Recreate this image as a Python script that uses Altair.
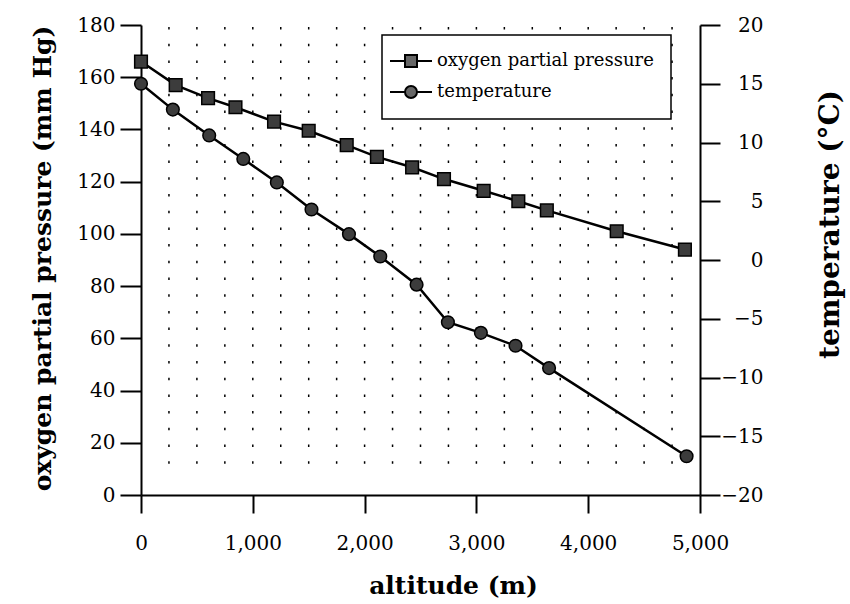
import altair as alt
import pandas as pd

# ---- data ----
o2_altitude = [0, 310, 600, 845, 1190, 1500, 1840, 2110, 2425, 2710, 3065, 3375, 3630, 4255, 4865]
o2_pressure = [166, 157, 152, 148.5, 143, 139.5, 134, 129.5, 125.5, 121, 116.5, 112.5, 109, 101, 94]
temp_altitude = [0, 285, 610, 915, 1215, 1525, 1860, 2140, 2465, 2745, 3040, 3350, 3650, 4880]
temp_celsius = [15, 12.8, 10.6, 8.6, 6.6, 4.3, 2.2, 0.3, -2.1, -5.3, -6.2, -7.3, -9.2, -16.7]
series_names = ["oxygen partial pressure", "temperature"]
x_ticks = [0, 1000, 2000, 3000, 4000, 5000]
o2_ticks = [0, 20, 40, 60, 80, 100, 120, 140, 160, 180]
temp_ticks = [-20, -15, -10, -5, 0, 5, 10, 15, 20]
grid_altitudes = [250, 500, 750, 1000, 1250, 1500, 1750, 2000, 2250, 2500,
                  2750, 3000, 3250, 3500, 3750, 4000, 4250, 4500, 4750]

FONT = "DejaVu Serif"
MARKER_FILL = "#3c3c3c"

df_o2 = pd.DataFrame({"altitude": o2_altitude, "value": o2_pressure})
df_t = pd.DataFrame({"altitude": temp_altitude, "value": temp_celsius})
df_grid = pd.DataFrame({"altitude": grid_altitudes})
df_leg = pd.DataFrame({"altitude": [o2_altitude[0], temp_altitude[0]],
                       "value": [o2_pressure[0], o2_pressure[0]],
                       "series": series_names})

x_axis = alt.Axis(values=x_ticks, format=",.0f", title="altitude (m)", grid=False,
                  domainColor="black", domainWidth=2, tickColor="black", tickWidth=2,
                  tickSize=18, labelFont=FONT, labelFontSize=20, labelColor="black",
                  labelPadding=20, labelFlush=False,
                  titleFont=FONT, titleFontSize=25, titleFontWeight="bold", titleColor="black",
                  titleBaseline="alphabetic", titleX=312, titleY=98)
x_enc = alt.X("altitude:Q", scale=alt.Scale(domain=[0, 5000], nice=False, zero=False), axis=x_axis)

grid = alt.Chart(df_grid).mark_rule(color="black", strokeWidth=1.5, strokeDash=[2.5, 14.2]).encode(
    x=x_enc, y=alt.value(2), y2=alt.value(452)
)

y_o2 = alt.Y("value:Q", scale=alt.Scale(domain=[0, 180], nice=False),
             axis=alt.Axis(orient="left", values=o2_ticks, grid=False,
                           domainColor="black", domainWidth=2, tickColor="black", tickWidth=2,
                           tickSize=21, labelFont=FONT, labelFontSize=20, labelColor="black",
                           labelPadding=5, labelFlush=False,
                           title="oxygen partial pressure (mm Hg)", titleFont=FONT,
                           titleFontSize=25, titleFontWeight="bold", titleColor="black",
                           titleAngle=270, titleAlign="center", titleBaseline="alphabetic",
                           titleX=-91, titleY=233))

y_t = alt.Y("value:Q", scale=alt.Scale(domain=[-20, 20], nice=False),
            axis=alt.Axis(orient="right", values=temp_ticks, grid=False,
                          domainColor="black", domainWidth=2, tickColor="black", tickWidth=2,
                          tickSize=20, labelFont=FONT, labelFontSize=20, labelColor="black",
                          labelAlign="right", labelPadding=43, labelFlush=False,
                          title="temperature (°C)", titleFont=FONT,
                          titleFontSize=28, titleFontWeight="bold", titleColor="black",
                          titleAngle=270, titleAlign="center", titleBaseline="alphabetic",
                          titleX=138, titleY=199))

o2_line = alt.Chart(df_o2).mark_line(color="black", strokeWidth=2.5).encode(x=x_enc, y=y_o2)
o2_pts = alt.Chart(df_o2).mark_point(shape="square", size=160, filled=True, fill=MARKER_FILL,
                                     stroke="black", strokeWidth=1.5, opacity=1).encode(x=x_enc, y=y_o2)

sq_path = "M-3.5,0H-1M1,0H3.5M-1,-1H1V1H-1Z"
ci_path = ("M-3.5,0H-1M1,0H3.5M1,0C1,0.552,0.552,1,0,1C-0.552,1,-1,0.552,-1,0"
           "C-1,-0.552,-0.552,-1,0,-1C0.552,-1,1,-0.552,1,0Z")

leg = alt.Legend(title=None, orient="none", legendX=241, legendY=10,
                 fillColor="white", strokeColor="black", padding=17,
                 labelFont=FONT, labelFontSize=18, labelColor="black",
                 labelLimit=400, symbolSize=144, symbolStrokeWidth=2,
                 symbolOpacity=1, symbolOffset=3, labelOffset=17, rowPadding=11)

legend_layer = alt.Chart(df_leg).mark_point(opacity=0, strokeWidth=2).encode(
    x=x_enc, y=y_o2,
    shape=alt.Shape("series:N", scale=alt.Scale(domain=series_names, range=[sq_path, ci_path]),
                    legend=leg),
    fill=alt.Fill("series:N", scale=alt.Scale(domain=series_names, range=["#666", "#666"]),
                  legend=leg),
    stroke=alt.Stroke("series:N", scale=alt.Scale(domain=series_names, range=["black", "black"]),
                      legend=leg),
)

t_line = alt.Chart(df_t).mark_line(color="black", strokeWidth=2.5).encode(x=x_enc, y=y_t)
t_pts = alt.Chart(df_t).mark_point(shape="circle", size=160, filled=True, fill=MARKER_FILL,
                                   stroke="black", strokeWidth=1.5, opacity=1).encode(x=x_enc, y=y_t)

o2_layer = alt.layer(o2_line, o2_pts, legend_layer)
t_layer = alt.layer(t_line, t_pts)

chart = alt.layer(grid, o2_layer, t_layer).resolve_scale(y="independent").properties(
    width=559, height=470,
    autosize=alt.AutoSizeParams(type="none"),
    padding={"left": 141, "top": 25, "right": 150, "bottom": 109},
).configure_view(stroke=None).configure_legend(strokeWidth=1.5)

chart.save("out.html", embed_options={"renderer": "svg", "actions": False})
